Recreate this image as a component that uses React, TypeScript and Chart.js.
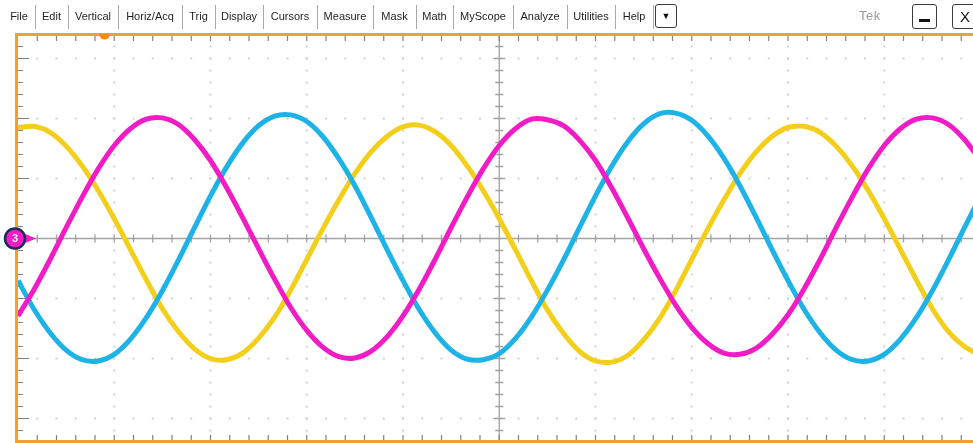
import { useEffect, useRef } from "react";
import { Chart, registerables } from "chart.js";

Chart.register(...registerables);

// Horizontal axis: electrical degrees across the 10-division screen (90° per division)
const PHASE_START = -450;
const PHASE_STEP = 15;
const X_MIN = -450;
const X_MAX = 450;
const X_DIV = 90;
// Vertical axis: screen divisions
const Y_MIN = -3.358;
const Y_MAX = 3.375;
const Y_DIV = 1;

// Channel traces, in divisions, one sample every 15°
const ch1Yellow = [
  1.85, 1.87, 1.77, 1.54, 1.21, 0.8, 0.33, -0.18, -0.69, -1.17, -1.55, -1.84,
  -2.0, -2.02, -1.91, -1.66, -1.31, -0.86, -0.35, 0.16, 0.64, 1.08, 1.44, 1.7,
  1.86, 1.89, 1.78, 1.55, 1.21, 0.8, 0.33, -0.18, -0.7, -1.19, -1.58, -1.88,
  -2.04, -2.06, -1.95, -1.69, -1.33, -0.87, -0.35, 0.16, 0.64, 1.08, 1.44, 1.7,
  1.85, 1.87, 1.77, 1.54, 1.21, 0.8, 0.33, -0.18, -0.69, -1.17, -1.55, -1.8,
  -1.95,
];
const ch2Cyan = [
  -0.7, -1.18, -1.57, -1.86, -2.02, -2.04, -1.93, -1.68, -1.32, -0.87, -0.36,
  0.18, 0.71, 1.19, 1.59, 1.88, 2.04, 2.06, 1.95, 1.7, 1.33, 0.88, 0.36, -0.18,
  -0.7, -1.18, -1.57, -1.86, -2.01, -2.02, -1.92, -1.67, -1.31, -0.86, -0.36,
  0.18, 0.71, 1.2, 1.61, 1.91, 2.08, 2.09, 1.97, 1.71, 1.34, 0.88, 0.36, -0.18,
  -0.7, -1.18, -1.57, -1.86, -2.02, -2.04, -1.93, -1.68, -1.32, -0.87, -0.36,
  0.18, 0.71,
];
const ch3Magenta = [
  -1.29, -0.85, -0.35, 0.18, 0.69, 1.16, 1.55, 1.83, 1.99, 2.01, 1.9, 1.65, 1.3,
  0.85, 0.35, -0.17, -0.68, -1.15, -1.53, -1.81, -1.97, -1.99, -1.88, -1.64,
  -1.29, -0.85, -0.35, 0.18, 0.69, 1.16, 1.55, 1.83, 1.99, 1.98, 1.88, 1.64, 1.3,
  0.85, 0.35, -0.17, -0.66, -1.11, -1.48, -1.75, -1.91, -1.93, -1.83, -1.6,
  -1.27, -0.84, -0.35, 0.18, 0.69, 1.16, 1.55, 1.83, 1.99, 2.01, 1.9, 1.65, 1.3,
];

const TRIGGER_POSITION = -369;
const CH3_OFFSET = 0;
const CH3_LABEL = "3";

const menuItems = [
  "File", "Edit", "Vertical", "Horiz/Acq", "Trig", "Display", "Cursors",
  "Measure", "Mask", "Math", "MyScope", "Analyze", "Utilities", "Help",
];
const menuCenters = [19, 51.5, 93, 150, 198.5, 239, 290, 345, 394.5, 434.5, 483, 540, 591, 634];
const menuSeparators = [35, 68, 118, 182, 215, 263, 317, 373, 416, 453, 513, 567, 615, 653];

const ORANGE = "#f0a030";

const toPoints = (values: number[]) =>
  values.map((v, i) => ({ x: PHASE_START + i * PHASE_STEP, y: v }));

const graticule = {
  id: "graticule",
  beforeDatasetsDraw(chart: any) {
    const { ctx, chartArea: a } = chart;
    const xs = chart.scales.x;
    const ys = chart.scales.y;
    const xMinor = X_DIV / 5;
    const yMinor = Y_DIV / 5;
    const eps = 1e-6;
    ctx.save();

    // dotted major grid lines
    ctx.fillStyle = "#d2d2d2";
    for (let gy = -3; gy <= 3; gy++) {
      if (gy === 0) continue;
      const py = ys.getPixelForValue(gy);
      for (let v = X_MIN; v <= X_MAX + eps; v += xMinor) {
        ctx.fillRect(xs.getPixelForValue(v) - 1, py - 1, 2, 2);
      }
    }
    for (let gx = X_MIN + X_DIV; gx < X_MAX; gx += X_DIV) {
      if (Math.abs(gx) < eps) continue;
      const px = xs.getPixelForValue(gx);
      for (let v = -3.2; v <= Y_MAX; v += yMinor) {
        ctx.fillRect(px - 1, ys.getPixelForValue(v) - 1, 2, 2);
      }
    }

    // center cross with minor ticks
    const cx = xs.getPixelForValue(0);
    const cy = ys.getPixelForValue(0);
    ctx.strokeStyle = "#a2a2a2";
    ctx.lineWidth = 1.3;
    ctx.beginPath();
    ctx.moveTo(a.left, cy);
    ctx.lineTo(a.right, cy);
    ctx.moveTo(cx, a.top);
    ctx.lineTo(cx, a.bottom);
    for (let v = X_MIN; v <= X_MAX + eps; v += xMinor) {
      const px = xs.getPixelForValue(v);
      ctx.moveTo(px, cy - 4);
      ctx.lineTo(px, cy + 4);
    }
    for (let v = -3.2; v <= Y_MAX; v += yMinor) {
      const py = ys.getPixelForValue(v);
      const major = Math.abs(v - Math.round(v)) < 0.01;
      const half = major ? 6 : 4;
      ctx.moveTo(cx - half, py);
      ctx.lineTo(cx + half, py);
    }
    ctx.stroke();

    // edge ticks
    ctx.strokeStyle = "#808080";
    ctx.lineWidth = 1.2;
    ctx.beginPath();
    for (let v = X_MIN + xMinor; v < X_MAX; v += xMinor) {
      const px = xs.getPixelForValue(v);
      ctx.moveTo(px, a.top);
      ctx.lineTo(px, a.top + 5);
      ctx.moveTo(px, a.bottom);
      ctx.lineTo(px, a.bottom - 5);
    }
    for (let v = -3.2; v <= Y_MAX; v += yMinor) {
      const py = ys.getPixelForValue(v);
      const major = Math.abs(v - Math.round(v)) < 0.01;
      ctx.moveTo(a.left, py);
      ctx.lineTo(a.left + (major ? 11 : 5), py);
    }
    ctx.stroke();

    // orange frame
    ctx.strokeStyle = ORANGE;
    ctx.lineWidth = 3;
    ctx.strokeRect(a.left - 1.5, a.top - 1.5, a.right - a.left + 3, a.bottom - a.top + 3);
    ctx.restore();
  },
  afterDatasetsDraw(chart: any) {
    const { ctx, chartArea: a } = chart;
    const xs = chart.scales.x;
    const ys = chart.scales.y;
    ctx.save();

    // trigger position marker on the top edge
    const tx = xs.getPixelForValue(TRIGGER_POSITION);
    ctx.fillStyle = "#f08c10";
    ctx.beginPath();
    ctx.arc(tx, a.top - 2, 5.5, 0, Math.PI);
    ctx.fill();

    // channel 3 ground marker
    const gy = ys.getPixelForValue(CH3_OFFSET);
    const gx = 15;
    ctx.fillStyle = "#f21cc6";
    ctx.beginPath();
    ctx.moveTo(gx + 9, gy - 5);
    ctx.lineTo(gx + 21, gy);
    ctx.lineTo(gx + 9, gy + 5);
    ctx.closePath();
    ctx.fill();
    ctx.beginPath();
    ctx.arc(gx, gy, 10, 0, Math.PI * 2);
    ctx.fill();
    ctx.strokeStyle = "#1d2d58";
    ctx.lineWidth = 2.5;
    ctx.stroke();
    ctx.fillStyle = "#fde6f6";
    ctx.font = "bold 11px 'Liberation Sans', Arial, sans-serif";
    ctx.textAlign = "center";
    ctx.textBaseline = "middle";
    ctx.fillText(CH3_LABEL, gx, gy + 0.5);
    ctx.restore();
  },
};

function MenuBar() {
  const font = "'Liberation Sans', Arial, sans-serif";
  return (
    <div style={{ position: "absolute", left: 0, top: 0, width: 973, height: 33, fontFamily: font }}>
      {menuItems.map((m, i) => (
        <div
          key={m}
          style={{
            position: "absolute",
            left: menuCenters[i],
            top: 9,
            transform: "translateX(-50%)",
            fontSize: 11,
            lineHeight: "14px",
            color: "#1e1e1e",
            whiteSpace: "nowrap",
          }}
        >
          {m}
        </div>
      ))}
      {menuSeparators.map((s) => (
        <div
          key={s}
          style={{ position: "absolute", left: s, top: 5, width: 1, height: 24, background: "#a8a8a8" }}
        />
      ))}
      <div
        style={{
          position: "absolute", left: 655, top: 4, width: 20, height: 22,
          border: "1.5px solid #3a3a3a", borderRadius: 3, fontSize: 9,
          display: "flex", alignItems: "center", justifyContent: "center", color: "#111",
        }}
      >
        ▼
      </div>
      <div
        style={{
          position: "absolute", left: 859, top: 8, fontSize: 13, lineHeight: "16px",
          color: "#9a9a9a", letterSpacing: 0.5,
        }}
      >
        Tek
      </div>
      <div
        style={{
          position: "absolute", left: 912, top: 4, width: 23, height: 23,
          border: "1.5px solid #3a3a3a", borderRadius: 3,
        }}
      >
        <div style={{ position: "absolute", left: 6, top: 14, width: 11, height: 2.5, background: "#111" }} />
      </div>
      <div
        style={{
          position: "absolute", left: 952, top: 4, width: 24, height: 23,
          border: "1.5px solid #3a3a3a", borderRadius: 3, fontSize: 15,
          display: "flex", alignItems: "center", justifyContent: "center", color: "#111",
        }}
      >
        X
      </div>
    </div>
  );
}

export default function App() {
  const canvasRef = useRef<HTMLCanvasElement | null>(null);

  useEffect(() => {
    const canvas = canvasRef.current;
    if (!canvas) return;
    const chart = new Chart(canvas, {
      type: "line",
      data: {
        datasets: [
          { label: "CH3", data: toPoints(ch3Magenta), borderColor: "#f21cc6" },
          { label: "CH2", data: toPoints(ch2Cyan), borderColor: "#1eb3e6" },
          { label: "CH1", data: toPoints(ch1Yellow), borderColor: "#f3cf1b" },
        ].map((d) => ({ ...d, borderWidth: 5, pointRadius: 0, tension: 0.3, fill: false })),
      },
      options: {
        responsive: false,
        animation: false,
        devicePixelRatio: 1,
        layout: { padding: { left: 18, right: 3.5, top: 36, bottom: 3 } },
        plugins: { legend: { display: false }, tooltip: { enabled: false } },
        scales: {
          x: { type: "linear", min: X_MIN, max: X_MAX, display: false },
          y: { type: "linear", min: Y_MIN, max: Y_MAX, display: false },
        },
      },
      plugins: [graticule],
    });
    return () => chart.destroy();
  }, []);

  return (
    <div
      style={{
        position: "fixed", left: 0, top: 0, width: 973, height: 443,
        overflow: "hidden", background: "#ffffff",
      }}
    >
      <canvas ref={canvasRef} width={984} height={443} style={{ display: "block" }} />
      <MenuBar />
    </div>
  );
}
